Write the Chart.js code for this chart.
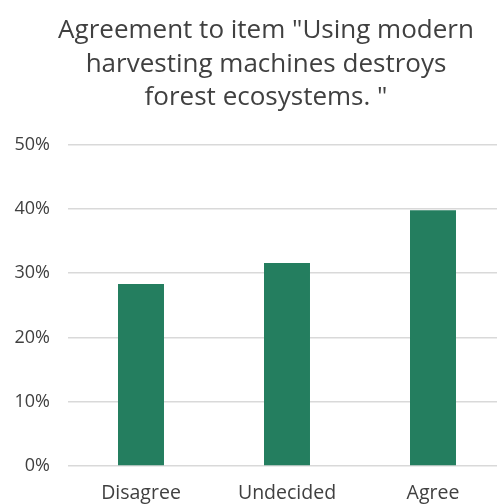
<!DOCTYPE html>
<html lang="en">
<head>
<meta charset="UTF-8">
<title>Agreement chart</title>
<script src="https://cdn.jsdelivr.net/npm/chart.js"></script>
<style>
  html, body { margin: 0; padding: 0; overflow: hidden; background: #fff; }
  canvas { display: block; }
</style>
</head>
<body>
<canvas id="myChart" width="532" height="504"></canvas>
<script>
const categories = ['Disagree', 'Undecided', 'Agree'];
const agreement = [28.3, 31.6, 39.8];
const yTicks = [0, 10, 20, 30, 40, 50];
const titleLines = ['Agreement to item "Using modern', 'harvesting machines destroys', 'forest ecosystems. "'];

const textColor = '#404040';
const fontFamily = '"Open Sans", Lato, sans-serif';

// centre the title over the whole canvas, not only the padded box
const centerTitle = {
    id: 'centerTitle',
    afterLayout(chart) {
        const t = chart.titleBlock;
        if (t) {
            t.left = 0;
            t.right = chart.width;
            t.width = chart.width;
        }
    }
};

const config = {
    type: 'bar',
    data: {
        labels: categories,
        datasets: [{
            data: agreement,
            backgroundColor: '#247e5f',
            borderWidth: 0,
            barPercentage: 1,
            categoryPercentage: 0.315
        }]
    },
    options: {
        responsive: false,
        animation: false,
        layout: { padding: { left: 12, right: 26, top: 14, bottom: 0 } },
        plugins: {
            legend: { display: false },
            tooltip: { enabled: false },
            title: {
                display: true,
                text: titleLines,
                color: textColor,
                font: { family: fontFamily, size: 26, weight: 'normal', lineHeight: 1.29 },
                padding: { top: 0, bottom: 30 }
            }
        },
        scales: {
            x: {
                afterFit: (axis) => { axis.height = 38; },
                grid: { display: false, drawTicks: false, tickLength: 0 },
                border: { display: false },
                ticks: { color: textColor, font: { family: fontFamily, size: 19.5 }, padding: 16, maxRotation: 0 }
            },
            y: {
                min: 0,
                max: 50,
                afterBuildTicks: (axis) => { axis.ticks = yTicks.map(v => ({ value: v })); },
                afterFit: (axis) => { axis.width = 56; },
                grid: { color: '#d9d9d9', lineWidth: 1.5, drawTicks: false },
                border: { display: false },
                ticks: {
                    color: textColor,
                    font: { family: fontFamily, size: 18 },
                    padding: 18,
                    callback: (v) => v + '%'
                }
            }
        }
    },
    plugins: [centerTitle]
};

new Chart(document.querySelector('#myChart'), config);
</script>
</body>
</html>
